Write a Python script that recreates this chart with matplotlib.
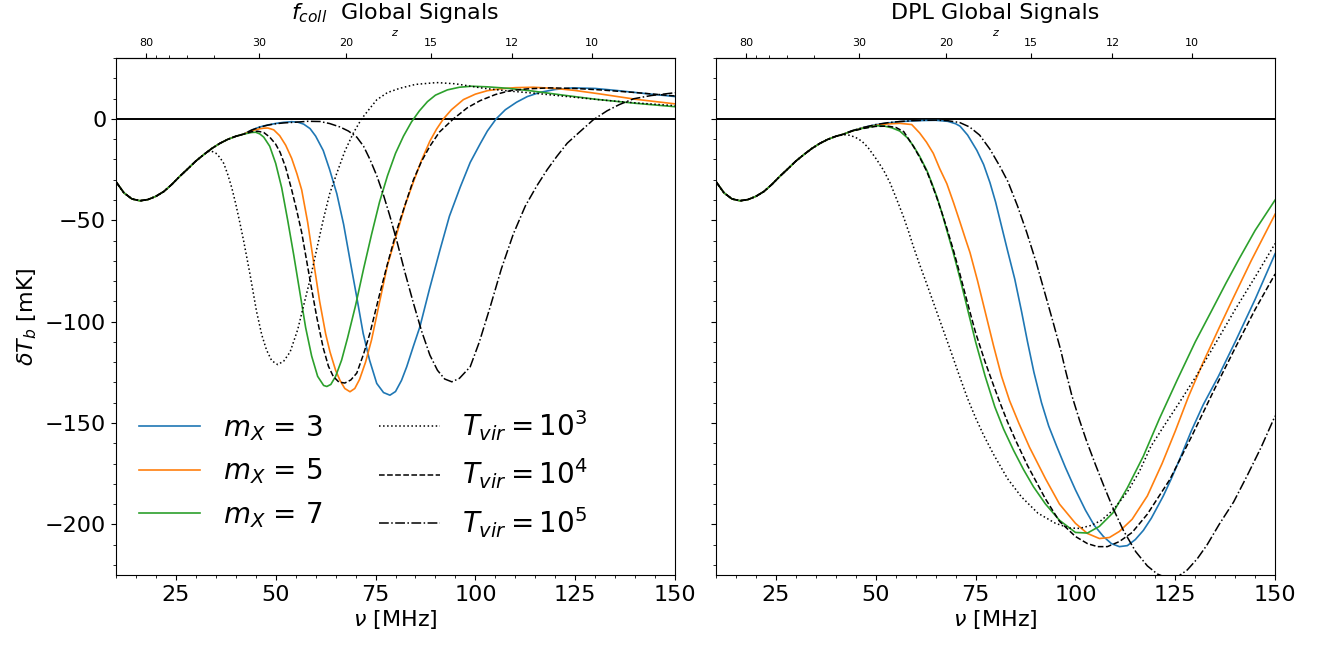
import matplotlib
matplotlib.use('Agg')
import matplotlib.pyplot as plt
import numpy as np
from matplotlib.ticker import AutoMinorLocator

# shared early part of every curve (nu in MHz, dT_b in mK)
nu_common = [10, 12, 14, 16, 18, 20, 22, 24, 26, 28, 30, 32, 34, 36, 38, 40, 42]
T_common = [-31, -36.5, -39.5, -40.4, -39.8, -38.2, -35.8, -32.3, -28.3, -24.6,
            -20.8, -17.6, -14.6, -12.1, -10.1, -8.6, -7.5]

# ---- f_coll panel ----
nu_f_m3 = [44, 46, 48, 50.2, 52, 54, 55.5, 57, 58.6, 60, 61.9, 63.5, 65.3, 67, 68.6, 70.3,
           71.9, 73.5, 75.3, 77, 78.6, 80, 81.5, 82.8, 84.5, 86.1, 88.5, 91.1, 93.5, 96.2,
           98.7, 101.2, 103, 105.2, 107.5, 110.3, 113, 116.2, 120, 124.5, 130, 135.4, 142, 150]
T_f_m3 = [-5.5, -4, -3, -2.2, -1.7, -1.4, -1.6, -2.6, -4.8, -8.5, -15.6, -25, -36.9, -52, -69.6, -88,
          -105.8, -119, -130.5, -135, -136.3, -134.5, -129, -122.3, -112, -102.6, -84, -64.9, -48, -33.7,
          -21.5, -12.3, -6, 0, 4.5, 8.2, 11, 13.1, 14.5, 15.3, 15, 14, 12.6, 11]

nu_f_m5 = [44, 46, 47, 48, 49.5, 51, 52.5, 54, 55.3, 56.5, 58, 59.4, 61, 62.5, 63.6, 65, 66.1,
           67.3, 68.6, 69.8, 71, 72.5, 74, 76.1, 78, 80.3, 82.5, 84.5, 86.5, 88.6, 90.3, 92, 94,
           97, 100, 103, 106.2, 110, 114.5, 120, 125, 131.2, 140, 150]
T_f_m5 = [-5.8, -4.9, -4.6, -4.5, -5.4, -8.3, -13, -19.5, -27, -35, -51, -69.5, -90, -106, -115,
          -124, -129, -133, -134.6, -133, -128.5, -120, -109, -89.5, -72, -56.8, -42, -31, -20.5,
          -11, -5, 0, 4.5, 9.5, 12.2, 13.9, 14.8, 15.4, 15.6, 15, 14, 12.3, 9.7, 7.4]

nu_f_m7 = [44, 45, 46, 47, 48.5, 50, 51.5, 53, 54.5, 56, 57.5, 59, 60.5, 62, 62.8, 63.8, 65,
           66.5, 68, 70, 72, 74, 76, 78, 80, 82, 84, 86, 88, 90, 93, 96, 99, 103, 108, 114, 122,
           130, 140, 150]
T_f_m7 = [-6.7, -6.6, -7.4, -9, -13.5, -22, -34, -50, -67, -85, -103, -117, -127, -131.5, -132,
          -131, -127, -119, -108, -92, -74, -57, -41, -28, -17, -8.5, -1.5, 4, 8.5, 11.7, 14.3,
          15.6, 16.1, 15.8, 15.1, 13.8, 11.7, 9.7, 7.7, 6]

nu_f_t3 = [33, 34, 35, 36, 37, 38, 39, 40, 41, 42, 43.5, 45.2, 46.5, 47.7, 49, 50.5, 52, 53.6,
           55.5, 57, 58.6, 60.3, 61.9, 63.5, 65.3, 67.3, 69.4, 71.5, 73.5, 75.3, 78, 81.1, 85,
           90.3, 95, 102, 108, 114.5, 122, 131.2, 140, 150]
T_f_t3 = [-16.1, -16, -16.9, -19, -22, -27.5, -34, -42, -51, -60.5, -76, -95, -106.5, -114,
          -119.3, -121.2, -119.5, -115, -104, -92, -79.3, -64, -49.8, -37, -26.8, -16, -7.1, 0, 5,
          9.4, 13, 15.1, 17, 17.9, 17.3, 15.1, 13.8, 12.7, 11.2, 9.4, 7.9, 6.5]

nu_f_t4 = [44, 45.5, 47, 48.5, 50, 51.1, 52.5, 54, 55.3, 56.5, 58.6, 60.3, 61.9, 63.2, 64.4,
           65.8, 67.3, 68.8, 70.3, 72, 73.6, 75.7, 77.8, 80.3, 82.8, 84.5, 86.5, 88.6, 91, 94.5,
           98, 101.2, 105, 108.7, 113, 118.7, 125, 131.2, 140, 150]
T_f_t4 = [-6.3, -6.1, -6.7, -9, -12.5, -16.5, -24, -35, -45.5, -56, -79.6, -98, -113, -122, -127,
          -129.8, -130.3, -128.8, -125.4, -116, -105.7, -89, -72.9, -55, -40, -30, -21, -13.5,
          -6.5, 0, 5.5, 9, 12, 13.9, 14.8, 15.3, 15, 14.3, 13, 11.3]

nu_f_t5 = [44, 46, 48, 50, 52, 55.3, 58, 61.1, 63.5, 66.1, 68.2, 70.3, 72, 73.6, 75.3, 76.9,
           78.6, 80.3, 82.4, 84.5, 86.5, 88.6, 90.5, 92.3, 94.1, 96, 98.7, 101, 103.7, 106.5,
           109.5, 112.5, 115.4, 118, 120.4, 123, 126.2, 129.5, 133, 136, 139.6, 144, 150]
T_f_t5 = [-5.5, -4.1, -3.1, -2.4, -2, -1.6, -1.2, -1.3, -2.3, -4, -6, -9, -13.5, -20, -28,
          -37, -48, -60, -76, -91, -104.5, -116.5, -124, -128.3, -129.7, -128, -122.3, -110,
          -92.8, -74, -56.8, -43, -33, -25, -18.5, -12, -6.3, -0.5, 4, 7, 9.9, 11.5, 12.9]

# ---- DPL panel ----
nu_d_m3 = [44, 47, 50, 53, 56, 59, 62, 65, 68, 70, 71.1, 73, 75.3, 77, 78.6, 80, 81.5, 83,
           84.8, 86.5, 88, 89.6, 91.5, 93.3, 95.3, 97.5, 100, 102.5, 104.7, 107, 109, 111, 113,
           115, 117, 119, 122, 124, 126.4, 129, 132, 135.8, 140, 145, 150]
T_d_m3 = [-5.9, -4.2, -2.9, -2, -1.4, -1, -0.8, -0.7, -1.2, -2.4, -3.6, -8, -15.5, -22.5, -31.5,
          -41, -53, -65, -79, -95, -110, -125, -140, -151.5, -161.5, -172, -183, -193, -200.5,
          -206, -209.5, -211, -210.5, -207.5, -203, -197, -186, -177.5, -166.5, -154, -141,
          -127, -110, -89, -66.5]

nu_d_m5 = [44, 47, 50, 53, 56, 59, 61, 62.7, 64.4, 66, 67.8, 69.5, 71.1, 72.5, 73.6, 75.5,
           77.5, 79.5, 81.5, 83.5, 85.8, 88.5, 92.5, 96, 100, 103, 106, 108.5, 111, 114.2, 118,
           121.7, 125, 128.3, 132, 136, 139.6, 144, 150]
T_d_m5 = [-6, -4.4, -3.2, -2.5, -2.2, -2.8, -7, -11.5, -17, -24.5, -32, -41.5, -51, -59.5,
          -66, -80, -96, -112, -127, -139, -150, -162, -177.5, -190, -199.5, -204.5, -207,
          -206.5, -203.5, -197.5, -186, -170, -154, -137, -120, -103, -88, -70, -47]

nu_d_m7 = [44, 47, 50, 52, 54, 56, 58, 59.4, 61, 62.8, 64, 65.3, 66.5, 67.8, 69.4, 71, 73,
           75, 77.4, 79.8, 82, 84.5, 87, 89.5, 92.5, 96, 100, 103, 106, 109.4, 113, 117, 121,
           125.5, 130, 134, 137.7, 141, 145, 150]
T_d_m7 = [-6, -4.5, -3.4, -3.5, -4.4, -6, -9.5, -13.3, -18.5, -25.5, -31.5, -38.5, -46, -55,
          -66, -78, -94, -110, -127, -142, -153, -163.5, -173, -181.5, -190, -198, -204, -204.3,
          -201, -194.3, -182, -166.4, -148, -128.7, -110, -95, -81, -69, -55, -40]

nu_d_t3 = [42, 43.5, 45, 46.5, 48, 50.2, 52, 53.6, 55.3, 56.9, 58.2, 59.4, 61, 62.5, 64.5,
           66.5, 68.5, 70.8, 73, 75, 77, 79.5, 83, 86.5, 90.6, 95, 98.5, 101, 104, 106.5, 109.4,
           113, 116, 118.9, 122, 126, 130.2, 135, 140, 145, 150]
T_d_t3 = [-7.8, -8.1, -9.2, -11, -14, -20, -25.5, -31.7, -40, -48.1, -55.5, -62.9, -72, -80,
          -91, -102, -113, -126, -138, -147.5, -156, -165.5, -177.5, -186.5, -194.5, -199.5,
          -201.8, -202, -200.5, -198, -193, -184, -174, -161.5, -152, -140, -127, -111, -94, -78,
          -61.5]

nu_d_t4 = [44, 47, 50, 53, 55, 57, 59.4, 61, 62.8, 64, 65.3, 66.5, 67.8, 69.4, 71, 73, 75,
           77.4, 79.5, 81.2, 83, 85, 88, 92.5, 96, 100, 103, 105.5, 108, 111, 114.2, 118, 123.6,
           129, 134.9, 140, 145, 150]
T_d_t4 = [-6.1, -4.7, -3.7, -3.6, -4.2, -6.3, -13.5, -19, -26, -32, -39, -46, -54, -64.5,
          -76, -91, -105.5, -120, -131.5, -140.5, -149.5, -158.5, -171, -187.5, -198.5, -206,
          -209.5, -211, -211, -208.5, -204, -195, -178, -157, -133, -113, -94, -76.5]

nu_d_t5 = [44, 47, 50, 53, 56, 59, 62, 65, 68, 71, 73.5, 76, 78.6, 81.1, 83.1, 85.5, 87.8,
           90.2, 92.5, 94.5, 96.3, 97.5, 99.1, 101, 102.8, 105, 107, 109.4, 112, 115.1, 118,
           120.5, 123, 125.5, 128, 130.5, 133, 136, 139.6, 143, 146.5, 150]
T_d_t5 = [-5.9, -4.2, -2.8, -1.9, -1.3, -0.9, -0.7, -0.6, -0.9, -1.8, -4, -8, -15, -23.5, -31,
          -43, -56, -71, -87, -101, -114, -124, -136.5, -148.5, -159, -170.5, -180.5, -192,
          -203, -213.5, -220.5, -224.5, -226.5, -226, -222.5, -217, -210, -200, -189, -176,
          -162, -146.5]

masses = [3, 5, 7]
tvir_exp = [3, 4, 5]
colors = ['#1f77b4', '#ff7f0e', '#2ca02c']
styles = [':', '--', '-.']
z_major = [80, 30, 20, 15, 12, 10]
z_minor = [70, 60, 50, 40]


def full(nu, T):
    # prepend the shared early part before the curve splits off
    nc = np.array(nu_common)
    tc = np.array(T_common)
    keep = nc < nu[0]
    return np.concatenate([nc[keep], nu]), np.concatenate([tc[keep], T])


def nu2z(nu):
    nu = np.asarray(nu, dtype=float)
    return 1420.4 / np.where(nu == 0, 1e-9, nu) - 1


def z2nu(z):
    z = np.asarray(z, dtype=float)
    return 1420.4 / (z + 1)


fig = plt.figure(figsize=(13.27, 6.45), dpi=100)
ax1 = fig.add_axes([0.0874, 0.1085, 0.4213, 0.8015])
ax2 = fig.add_axes([0.5396, 0.1085, 0.4213, 0.8015], sharey=ax1)

fcoll_m = [(nu_f_m3, T_f_m3), (nu_f_m5, T_f_m5), (nu_f_m7, T_f_m7)]
fcoll_t = [(nu_f_t3, T_f_t3), (nu_f_t4, T_f_t4), (nu_f_t5, T_f_t5)]
dpl_m = [(nu_d_m3, T_d_m3), (nu_d_m5, T_d_m5), (nu_d_m7, T_d_m7)]
dpl_t = [(nu_d_t3, T_d_t3), (nu_d_t4, T_d_t4), (nu_d_t5, T_d_t5)]

for ax, mset, tset in [(ax1, fcoll_m, fcoll_t), (ax2, dpl_m, dpl_t)]:
    ax.axhline(0, color='k', lw=1.4)
    for (nu, T), m, c in zip(mset, masses, colors):
        x, y = full(nu, T)
        ax.plot(x, y, color=c, lw=1.2, label=r'$m_X$ = %d' % m)
    for (nu, T), e, ls in zip(tset, tvir_exp, styles):
        x, y = full(nu, T)
        ax.plot(x, y, color='k', ls=ls, lw=1.1, label=r'$T_{vir} = 10^%d$' % e)
    ax.set_xlim(10, 150)
    ax.set_ylim(-225, 30)
    ax.set_xticks([25, 50, 75, 100, 125, 150])
    ax.xaxis.set_minor_locator(AutoMinorLocator(5))
    ax.yaxis.set_minor_locator(AutoMinorLocator(5))
    ax.tick_params(labelsize=16)
    ax.set_xlabel(r'$\nu$ [MHz]', fontsize=16, labelpad=2)
    sec = ax.secondary_xaxis('top', functions=(nu2z, z2nu))
    sec.set_xticks(z_major)
    sec.set_xticks(z_minor, minor=True)
    sec.set_xticklabels([str(z) for z in z_major])
    sec.tick_params(labelsize=8)
    sec.set_xlabel('$z$', fontsize=8, labelpad=2)

plt.setp(ax2.get_yticklabels(), visible=False)
ax1.set_yticks([0, -50, -100, -150, -200])
ax1.set_ylabel(r'$\delta T_b$ [mK]', fontsize=16)
ax1.set_title(r'$f_{coll}$  Global Signals', fontsize=16)
ax2.set_title('DPL Global Signals', fontsize=16)

ax1.legend(ncol=2, fontsize=20, frameon=False, loc='lower left',
           bbox_to_anchor=(-0.003, 0.02), handlelength=2.2, columnspacing=2.05)

fig.savefig('out.png', dpi=100)
